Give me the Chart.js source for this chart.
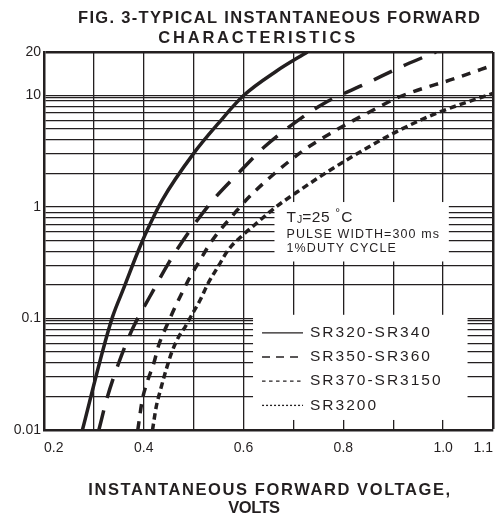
<html>
    <head>
        <script src="https://cdn.jsdelivr.net/npm/chart.js@4"></script>
        <style>
            body { margin: 0; background: #fff; }
        </style>
    </head>

    <body>
        <canvas id="chart" width="503" height="515"></canvas>

        <script>
            // data (volts, amps)
            const sr320Volts = [0.277, 0.318, 0.3375, 0.361, 0.387, 0.407, 0.437, 0.500, 0.549, 0.600, 0.667, 0.728];
            const sr320Amps  = [0.010, 0.052, 0.104, 0.193, 0.385, 0.622, 1.156, 3.03, 5.6, 10, 16.7, 24.6];

            const sr350Volts = [0.310, 0.3256, 0.349, 0.377, 0.414, 0.450, 0.492, 0.539, 0.589, 0.642, 0.701, 0.761, 0.847, 0.926, 0.986];
            const sr350Amps  = [0.010, 0.0188, 0.0391, 0.080, 0.1625, 0.316, 0.612, 1.156, 2.0, 3.47, 5.63, 8.5, 12.9, 19.0, 24.6];

            const sr370Volts = [0.388, 0.397, 0.407, 0.420, 0.430, 0.445, 0.460, 0.476, 0.493, 0.513, 0.533, 0.553, 0.579, 0.602, 0.662, 0.721, 0.774, 0.847, 0.913, 1.025, 1.101];
            const sr370Amps  = [0.010, 0.0186, 0.0271, 0.0396, 0.0578, 0.0843, 0.119, 0.168, 0.237, 0.335, 0.472, 0.622, 0.848, 1.116, 2.0, 3.24, 4.58, 6.92, 9.76, 14.3, 18.8];

            const sr3200Volts = [0.4175, 0.425, 0.4335, 0.4446, 0.4565, 0.470, 0.483, 0.496, 0.513, 0.529, 0.549, 0.569, 0.595, 0.622, 0.662, 0.708, 0.774, 0.840, 0.906, 0.986, 1.101];
            const sr3200Amps  = [0.010, 0.0162, 0.0229, 0.0345, 0.0504, 0.0687, 0.0843, 0.1074, 0.1466, 0.207, 0.292, 0.411, 0.542, 0.690, 0.98, 1.37, 2.15, 3.24, 4.73, 6.92, 10.5];

            const seriesNames = ['SR320-SR340', 'SR350-SR360', 'SR370-SR3150', 'SR3200'];

            const xTickValues = [0.2, 0.4, 0.6, 0.8, 1.0, 1.1];
            const xTickLabels = ['0.2', '0.4', '0.6', '0.8', '1.0', '1.1'];
            const yTickValues = [0.01, 0.1, 1, 10, 24.6];
            const yTickLabels = ['0.01', '0.1', '1', '10', '20'];

            const ink = '#231f20';
            const font = '"Liberation Sans", Arial, sans-serif';

            // log grid: 1..9 in each decade, plus the extra line the sheet has below 0.1 and 10
            const yGrid = [];
            for (const d of [0.01, 0.1, 1]) for (let m = 1; m < 10; m++) yGrid.push(m * d);
            yGrid.push(0.095, 9.5, 10, 24.6);
            yGrid.sort((a, b) => a - b);

            function pts(xs, ys) { return xs.map((v, i) => ({ x: v, y: ys[i] })); }

            // text boxes that blank out the grid (in data units)
            const noteBox = { x0: 0.662, x1: 1.0115, y0: 0.325, y1: 1.109 };
            const legendBox = { x0: 0.619, x1: 1.049, y0: 0.0123, y1: 0.108 };

            function spaced(ctx, text, cx, cy, f, width) {
                ctx.font = f;
                ctx.letterSpacing = '0px';
                const w = ctx.measureText(text).width;
                const ls = width ? (width - w) / (text.length - 1) : 0;
                ctx.letterSpacing = ls + 'px';
                ctx.textAlign = 'left';
                ctx.textBaseline = 'middle';
                ctx.fillText(text, cx - (w + ls * (text.length - 1)) / 2, cy);
                ctx.letterSpacing = '0px';
            }

            function leftText(ctx, text, x, y, f, ls) {
                ctx.font = f;
                ctx.letterSpacing = ls + 'px';
                ctx.textAlign = 'left';
                ctx.textBaseline = 'middle';
                ctx.fillText(text, x, y);
                const w = ctx.measureText(text).width;
                ctx.letterSpacing = '0px';
                return w;
            }

            const sheetPlugin = {
                id: 'sheet',
                beforeDatasetsDraw(chart) {
                    const { ctx, scales: { x, y } } = chart;
                    ctx.save();
                    ctx.fillStyle = '#fff';
                    for (const b of [noteBox, legendBox]) {
                        const l = x.getPixelForValue(b.x0), r = x.getPixelForValue(b.x1);
                        const t = y.getPixelForValue(b.y1), btm = y.getPixelForValue(b.y0);
                        ctx.fillRect(l, t, r - l, btm - t);
                    }
                    ctx.restore();
                },
                afterDatasetsDraw(chart) {
                    const { ctx, scales: { x, y } } = chart;
                    ctx.save();
                    ctx.fillStyle = ink;
                    ctx.strokeStyle = ink;

                    // test conditions
                    const nl = x.getPixelForValue(noteBox.x0) + 12;
                    const nt = y.getPixelForValue(noteBox.y1);
                    let px = nl;
                    px += leftText(ctx, 'T', px, nt + 16, '15.5px ' + font, 0);
                    px += leftText(ctx, 'J', px + 1, nt + 18, '10.5px ' + font, 0) + 1;
                    px += leftText(ctx, '=25 ', px, nt + 16, '15.5px ' + font, 0.6);
                    leftText(ctx, '\u00b0', px, nt + 12, '12px ' + font, 0);
                    leftText(ctx, 'C', px + 6, nt + 16, '15.5px ' + font, 0);
                    leftText(ctx, 'PULSE WIDTH=300 ms', nl, nt + 32.5, '12.5px ' + font, 1.1);
                    leftText(ctx, '1%DUTY CYCLE', nl, nt + 46.5, '12.5px ' + font, 1.1);

                    // legend
                    const ll = x.getPixelForValue(legendBox.x0);
                    const lt = y.getPixelForValue(legendBox.y1);
                    chart.data.datasets.forEach((ds, i) => {
                        const ry = lt + 18 + i * 24.2;
                        ctx.lineWidth = 1.3;
                        ctx.setLineDash(ds.legendDash);
                        ctx.beginPath();
                        ctx.moveTo(ll + 9, ry);
                        ctx.lineTo(ll + 50, ry);
                        ctx.stroke();
                        ctx.setLineDash([]);
                        leftText(ctx, ds.label, ll + 57, ry, '15.5px ' + font, 2);
                    });
                    ctx.restore();
                },
                afterDraw(chart) {
                    const ctx = chart.ctx;
                    ctx.save();
                    ctx.fillStyle = ink;
                    const bold = 'bold 16.5px ' + font;
                    spaced(ctx, 'FIG. 3-TYPICAL INSTANTANEOUS FORWARD', 279, 18.5, bold, 402);
                    spaced(ctx, 'CHARACTERISTICS', 256.7, 38.3, bold, 197);
                    spaced(ctx, 'INSTANTANEOUS FORWARD VOLTAGE,', 269.2, 490, bold, 362);
                    spaced(ctx, 'VOLTS', 254.2, 508, bold, 51.7);
                    ctx.restore();
                }
            };

            const curveStyle = { borderColor: ink, borderWidth: 3.5, pointRadius: 0, fill: false, cubicInterpolationMode: 'monotone', borderCapStyle: 'butt' };

            new Chart(document.getElementById('chart'), {
                type: 'line',
                data: {
                    datasets: [
                        { ...curveStyle, label: seriesNames[0], data: pts(sr320Volts, sr320Amps), borderDash: [], legendDash: [] },
                        { ...curveStyle, label: seriesNames[1], data: pts(sr350Volts, sr350Amps), borderDash: [20, 13], legendDash: [8, 6] },
                        { ...curveStyle, label: seriesNames[2], data: pts(sr370Volts, sr370Amps), borderDash: [9, 8], legendDash: [3.5, 3.5] },
                        { ...curveStyle, label: seriesNames[3], data: pts(sr3200Volts, sr3200Amps), borderDash: [6.5, 4], legendDash: [2, 2] }
                    ]
                },
                options: {
                    responsive: false,
                    animation: false,
                    layout: { autoPadding: false, padding: { top: 52, right: 5, left: 0, bottom: 0 } },
                    plugins: { legend: { display: false }, title: { display: false }, tooltip: { enabled: false } },
                    scales: {
                        x: {
                            type: 'linear',
                            min: 0.2,
                            max: 1.1,
                            afterFit: (axis) => { axis.height = 85; },
                            border: { color: ink, width: 2.5 },
                            grid: {
                                color: ink,
                                drawTicks: false,
                                lineWidth: (c) => (c.tick && Math.abs(c.tick.value - 1.1) < 1e-6) ? 2.5 : 1.3
                            },
                            ticks: {
                                stepSize: 0.1,
                                autoSkip: false,
                                maxRotation: 0,
                                align: 'inner',
                                padding: 10,
                                color: ink,
                                font: { family: font, size: 14 },
                                callback: (v) => {
                                    const i = xTickValues.findIndex(t => Math.abs(t - v) < 1e-6);
                                    return i < 0 ? '' : xTickLabels[i];
                                }
                            }
                        },
                        y: {
                            type: 'logarithmic',
                            min: 0.01,
                            max: 24.6,
                            afterFit: (axis) => { axis.width = 44; },
                            afterBuildTicks: (axis) => { axis.ticks = yGrid.map(v => ({ value: v })); },
                            border: { color: ink, width: 2.5 },
                            grid: {
                                color: ink,
                                drawTicks: false,
                                lineWidth: (c) => (c.tick && c.tick.value === 24.6) ? 2.5 : 1.3
                            },
                            ticks: {
                                autoSkip: false,
                                padding: 3,
                                color: ink,
                                font: { family: font, size: 14 },
                                callback: (v) => {
                                    const i = yTickValues.findIndex(t => Math.abs(t - v) < 1e-9);
                                    return i < 0 ? '' : yTickLabels[i];
                                }
                            }
                        }
                    }
                },
                plugins: [sheetPlugin]
            });
        </script>
    </body>
</html>
